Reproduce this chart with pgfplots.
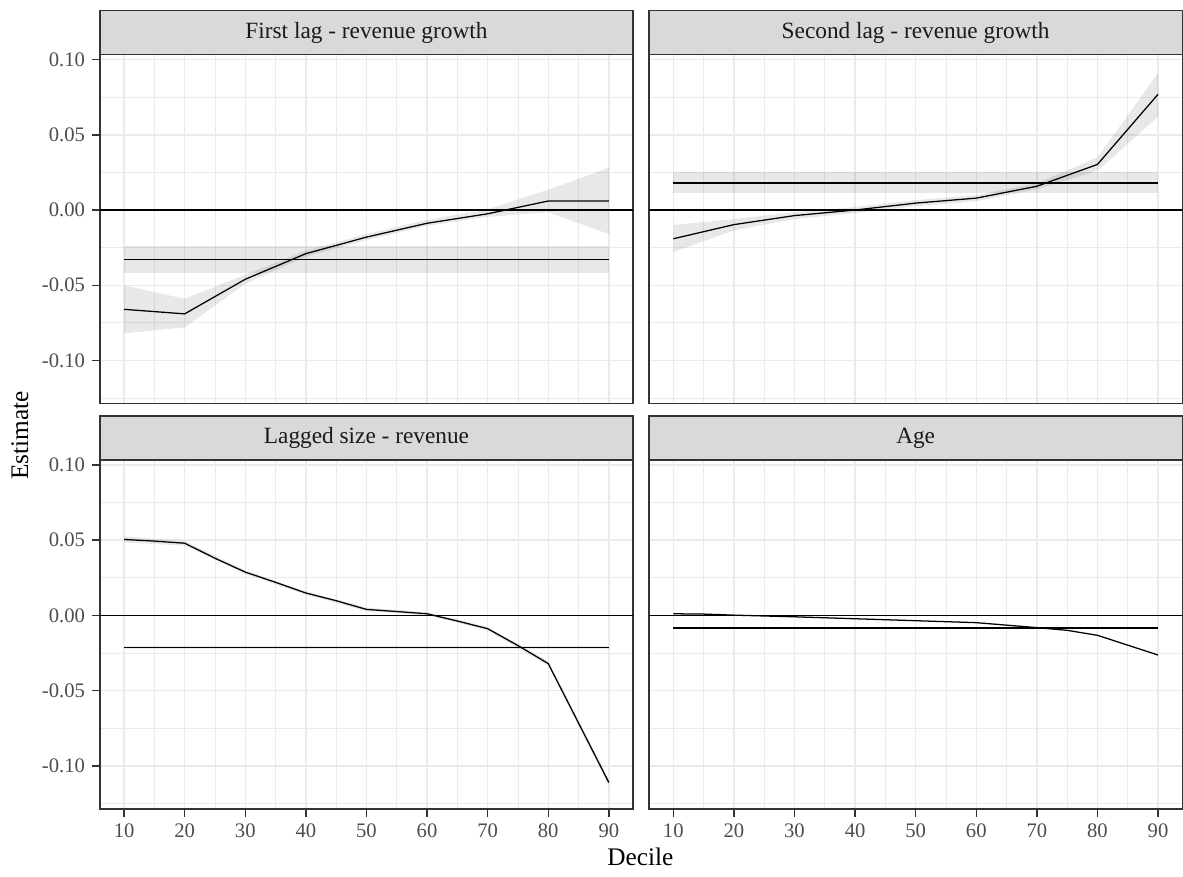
\documentclass[border=0pt]{standalone}
\usepackage{fontspec}
\setmainfont{Liberation Serif}
\usepackage{pgfplots}
\pgfplotsset{compat=1.18}
\definecolor{grey92}{HTML}{EBEBEB}
\definecolor{grey85}{HTML}{D9D9D9}
\definecolor{grey20}{HTML}{333333}
\definecolor{grey30}{HTML}{4D4D4D}
\definecolor{grey10}{HTML}{1A1A1A}
\pgfplotsset{
  facet/.style={
    scale only axis, width=400.5pt, height=262pt,
    xmin=6, xmax=94, ymin=-0.1285, ymax=0.1033,
    xtick={10,20,...,90}, minor xtick={15,25,...,85},
    ytick={-0.1,-0.05,0,0.05,0.1}, minor ytick={-0.125,-0.075,-0.025,0.025,0.075},
    xtick pos=bottom, ytick pos=left,
    grid=both,
    major grid style={draw=grey92, line width=1.1pt},
    minor grid style={draw=grey92, line width=0.6pt},
    axis line style={draw=grey20, line width=1.1pt},
    major tick style={draw=grey20, line width=1.1pt},
    minor tick length=0pt, major tick length=6pt, tick align=outside,
    /pgf/number format/assume math mode=true,
    /pgf/number format/.cd, fixed, fixed zerofill, precision=2, /pgfplots/.cd,
    ticklabel style={font=\fontsize{15.5}{18}\selectfont, text=grey30},
    yticklabel style={inner sep=0pt, xshift=-5pt},
    xticklabel style={inner sep=0pt, yshift=-5pt},
    xticklabels={}, yticklabels={},
    clip=true,
  },
  noxlab/.style={xticklabels={}, major x tick style={draw=none}},
  noylab/.style={yticklabels={}, major y tick style={draw=none}},
  withx/.style={xticklabels={10,20,30,40,50,60,70,80,90}},
  withy/.style={yticklabels={-0.10,-0.05,0.00,0.05,0.10}},
  rib/.style={draw=none, fill=black, fill opacity=0.09},
  est/.style={black, line width=0.95pt},
}
\newcommand{\strip}[2]{%
  \draw[fill=grey85, draw=grey20, line width=1.1pt] (#1.north west) rectangle ([yshift=33pt]#1.north east);
  \node[text=grey10, font=\fontsize{17.5}{20}\selectfont] at ([yshift=16.5pt]#1.north) {#2};
}
\begin{document}
\begin{tikzpicture}
\path (0,0) rectangle (887.25pt,658.5pt);
% ---------- top left ----------
\begin{axis}[facet, name=tl, at={(75pt,355.5pt)}, anchor=south west, withy, noxlab,
  major y tick style={draw=grey20, line width=1.1pt}]
\addplot[rib] coordinates {(10,-0.050) (20,-0.059) (30,-0.043) (40,-0.027) (50,-0.016) (60,-0.0065) (70,0.0005) (80,0.0135) (90,0.028)
  (90,-0.016) (80,-0.0015) (70,-0.0045) (60,-0.0105) (50,-0.020) (40,-0.031) (30,-0.049) (20,-0.078) (10,-0.082)};
\addplot[rib] coordinates {(10,-0.0238) (90,-0.0238) (90,-0.0417) (10,-0.0417)};
\addplot[est] coordinates {(0,0) (100,0)};
\addplot[est] coordinates {(10,-0.0331) (90,-0.0331)};
\addplot[est] coordinates {(10,-0.066) (15,-0.0675) (20,-0.069) (30,-0.046) (40,-0.029) (50,-0.018) (60,-0.0088) (70,-0.0025) (80,0.006) (90,0.006)};
\end{axis}
\strip{tl}{First lag - revenue growth}
% ---------- top right ----------
\begin{axis}[facet, name=tr, at={(487.5pt,355.5pt)}, anchor=south west, noxlab, noylab]
\addplot[rib] coordinates {(10,-0.010) (20,-0.006) (30,-0.0015) (40,0.002) (50,0.0066) (60,0.0099) (70,0.0178) (80,0.035) (90,0.091)
  (90,0.062) (80,0.026) (70,0.0138) (60,0.0059) (50,0.0026) (40,-0.002) (30,-0.006) (20,-0.0135) (10,-0.028)};
\addplot[rib] coordinates {(10,0.0255) (90,0.0255) (90,0.011) (10,0.011)};
\addplot[est] coordinates {(0,0) (100,0)};
\addplot[est] coordinates {(10,0.018) (90,0.018)};
\addplot[est] coordinates {(10,-0.0191) (20,-0.0097) (30,-0.0037) (40,0.0000) (50,0.0046) (60,0.0079) (70,0.0158) (80,0.0303) (90,0.0769)};
\end{axis}
\strip{tr}{Second lag - revenue growth}
% ---------- bottom left ----------
\begin{axis}[facet, name=bl, at={(75pt,51pt)}, anchor=south west, withx, withy]
\addplot[rib] coordinates {(10,0.0525) (20,0.0495) (30,0.0300) (40,0.0160) (50,0.0052) (60,0.0022) (70,-0.0076) (80,-0.0305) (90,-0.109)
  (90,-0.113) (80,-0.0335) (70,-0.0100) (60,0.0000) (50,0.0028) (40,0.0138) (30,0.0276) (20,0.0465) (10,0.0485)};
\addplot[rib] coordinates {(10,-0.0205) (90,-0.0205) (90,-0.0225) (10,-0.0225)};
\addplot[est] coordinates {(0,0) (100,0)};
\addplot[est] coordinates {(10,-0.0215) (90,-0.0215)};
\addplot[est] coordinates {(10,0.0505) (15,0.0494) (20,0.0480) (25,0.0380) (30,0.0288) (35,0.0220) (40,0.0149) (45,0.0098) (50,0.0040) (55,0.0026) (60,0.0011) (65,-0.0037) (70,-0.0088) (75,-0.0200) (80,-0.0320) (90,-0.1110)};
\end{axis}
\strip{bl}{Lagged size - revenue}
% ---------- bottom right ----------
\begin{axis}[facet, name=br, at={(487.5pt,51pt)}, anchor=south west, withx, noylab]
\addplot[est] coordinates {(0,0) (100,0)};
\addplot[est] coordinates {(10,-0.0083) (90,-0.0083)};
\addplot[est] coordinates {(10,0.0011) (15,0.0009) (20,0.0002) (30,-0.0009) (40,-0.0022) (50,-0.0035) (60,-0.0048) (70,-0.0081) (75,-0.0099) (80,-0.0132) (90,-0.0263)};
\end{axis}
\strip{br}{Age}
% ---------- axis titles ----------
\node[rotate=90, font=\fontsize{19}{22}\selectfont] at (15pt,331.5pt) {Estimate};
\node[font=\fontsize{19}{22}\selectfont] at (481pt,15pt) {Decile};
\end{tikzpicture}
\end{document}
